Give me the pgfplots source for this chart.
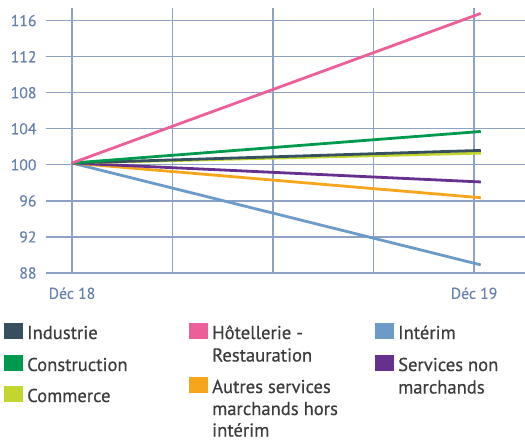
\documentclass[border=0pt]{standalone}
\usepackage{fontspec}
\setmainfont{PT Sans}[FakeBold=0.5]
\usepackage{pgfplots}
\pgfplotsset{compat=1.18}
\definecolor{cInd}{HTML}{37505F}
\definecolor{cCon}{HTML}{009A4E}
\definecolor{cCom}{HTML}{C3D62D}
\definecolor{cHot}{HTML}{EC5F99}
\definecolor{cAut}{HTML}{F7A61C}
\definecolor{cInt}{HTML}{6B9BC6}
\definecolor{cSnm}{HTML}{66308F}
\definecolor{gridc}{HTML}{8DA2C4}
\definecolor{tickc}{HTML}{6882AE}
\definecolor{legc}{HTML}{3C3C3C}
\begin{document}
\begin{tikzpicture}[x=1pt,y=1pt]
\useasboundingbox (0,0) rectangle (525,-441);
\begin{axis}[at={(46pt,-273pt)}, anchor=south west, scale only axis,
  width=479pt, height=265pt,
  xmin=-0.776, xmax=13.52, ymin=88, ymax=117.4,
  xtick={0,3,6,9,12}, xticklabels={Déc 18,,,,Déc 19},
  ytick={88,92,...,116},
  grid=major, major grid style={draw=gridc, line width=1.3pt},
  axis line style={draw=none}, major tick length=0pt,
  tick label style={font=\fontsize{15.7}{18}\selectfont, text=tickc},
  xticklabel style={yshift=-11pt},
  yticklabel style={xshift=-6pt},
  /pgf/number format/assume math mode=true,
  clip=false]
\addplot[cInt, line width=2.8pt] coordinates {(0,100.2) (12.2,88.9)};
\addplot[cAut, line width=2.8pt] coordinates {(0,100.2) (12.2,96.35)};
\addplot[cSnm, line width=2.8pt] coordinates {(0,100.2) (12.2,98.1)};
\addplot[cCom, line width=2.8pt] coordinates {(0,100.2) (12.2,101.3)};
\addplot[cInd, line width=2.8pt] coordinates {(0,100.2) (12.2,101.6)};
\addplot[cCon, line width=2.8pt] coordinates {(0,100.2) (12.2,103.7)};
\addplot[cHot, line width=2.8pt] coordinates {(0,100.2) (12.2,116.8)};
\end{axis}
\tikzset{lt/.style={anchor=base west, inner sep=0pt, text=legc, font=\fontsize{18.6}{22}\selectfont}}
% column 1
\fill[cInd] (4,-339) rectangle (23,-323);
\node[lt] at (27,-339) {Industrie};
\fill[cCon] (4,-371) rectangle (23,-355);
\node[lt] at (27,-371) {Construction};
\fill[cCom] (4,-402) rectangle (23,-386);
\node[lt] at (27,-402) {Commerce};
% column 2
\fill[cHot] (189,-339) rectangle (208,-323);
\node[lt] at (212,-339) {Hôtellerie -};
\node[lt] at (212,-361.5) {Restauration};
\fill[cAut] (189,-393) rectangle (208,-377);
\node[lt] at (212,-393) {Autres services};
\node[lt] at (212,-415) {marchands hors};
\node[lt] at (212,-436.5) {intérim};
% column 3
\fill[cInt] (375,-339) rectangle (394,-323);
\node[lt] at (398,-339) {Intérim};
\fill[cSnm] (375,-371) rectangle (394,-355);
\node[lt] at (398,-371) {Services non};
\node[lt] at (398,-393.5) {marchands};
\end{tikzpicture}
\end{document}
